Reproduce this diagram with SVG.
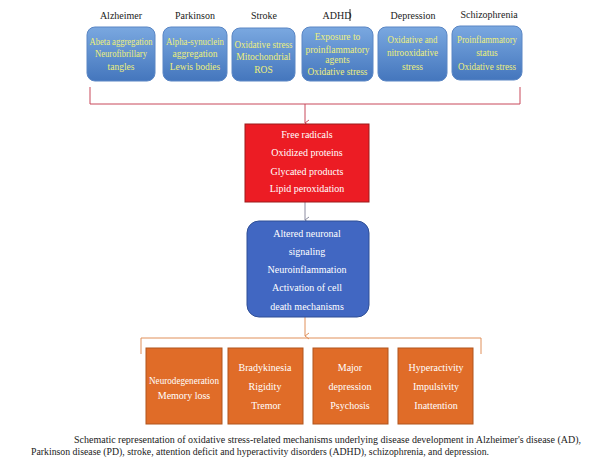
<svg xmlns="http://www.w3.org/2000/svg" width="589" height="472" viewBox="0 0 589 472">
<defs>
<linearGradient id="gTop" x1="0" y1="0" x2="0" y2="1">
<stop offset="0" stop-color="#7aa8e0"/>
<stop offset="1" stop-color="#4476bd"/>
</linearGradient>
<marker id="aRed" markerWidth="8" markerHeight="8" refX="4" refY="6" orient="auto" markerUnits="userSpaceOnUse" viewBox="0 0 8 8">
<path d="M1,2 L4,6 L7,2" fill="none" stroke="#c8485a" stroke-width="1"/>
</marker>
<marker id="aGrey" markerWidth="8" markerHeight="8" refX="4" refY="6" orient="auto" markerUnits="userSpaceOnUse" viewBox="0 0 8 8">
<path d="M1,2 L4,6 L7,2" fill="none" stroke="#8c8ca0" stroke-width="1"/>
</marker>
<marker id="aOr" markerWidth="8" markerHeight="8" refX="4" refY="6" orient="auto" markerUnits="userSpaceOnUse" viewBox="0 0 8 8">
<path d="M1,2 L4,6 L7,2" fill="none" stroke="#e0905a" stroke-width="1"/>
</marker>
</defs>
<style>
text{font-family:"Liberation Serif","DejaVu Serif",serif;text-anchor:middle}
.lbl{font-size:10px;fill:#222}
.top rect{fill:url(#gTop);stroke:#5a86c4;stroke-width:1}
.top text{font-size:9.5px;fill:#eef07a}
.red{fill:#ec1c24;stroke:#9c1a1a;stroke-width:1}
.blue{fill:#4167c2;stroke:#2f4f96;stroke-width:1}
.or{fill:#e06c28;stroke:#b0541c;stroke-width:1}
.w{font-size:10px;fill:#ffffff}
.cap{font-size:9.4px;fill:#222;text-anchor:start}
</style>
<rect width="589" height="472" fill="#ffffff"/>

<g id="connectors" fill="none">
<path d="M90,87 V104 H520 V87" stroke="#c8485a" stroke-width="1"/>
<path d="M305,104 V123" stroke="#c8485a" stroke-width="1" marker-end="url(#aRed)"/>
<path d="M305,202 V220" stroke="#8c8ca0" stroke-width="1" marker-end="url(#aGrey)"/>
<path d="M305,317 V336" stroke="#e0905a" stroke-width="1" marker-end="url(#aOr)"/>
<path d="M141,354 V338 H481 V354" stroke="#e0905a" stroke-width="1"/>
</g>

<g id="labels">
<text class="lbl" x="121" y="19">Alzheimer</text>
<text class="lbl" x="195" y="19">Parkinson</text>
<text class="lbl" x="264" y="19">Stroke</text>
<text class="lbl" x="337" y="19">ADHD</text>
<line x1="350" y1="9" x2="350" y2="21" stroke="#000" stroke-width="0.8"/>
<text class="lbl" x="413" y="19">Depression</text>
<text class="lbl" x="489" y="18">Schizophrenia</text>
</g>

<g id="n-alzheimer" class="top">
<rect x="87" y="27" width="68" height="54" rx="8"/>
<text x="121" y="45" textLength="63" lengthAdjust="spacingAndGlyphs">Abeta aggregation</text>
<text x="121" y="57" textLength="52" lengthAdjust="spacingAndGlyphs">Neurofibrillary</text>
<text x="121" y="70">tangles</text>
</g>
<g id="n-parkinson" class="top">
<rect x="163" y="27" width="64" height="54" rx="8"/>
<text x="195" y="45" textLength="58" lengthAdjust="spacingAndGlyphs">Alpha-synuclein</text>
<text x="195" y="57">aggregation</text>
<text x="195" y="70">Lewis bodies</text>
</g>
<g id="n-stroke" class="top">
<rect x="232" y="28" width="63" height="53" rx="8"/>
<text x="263.5" y="48" textLength="58" lengthAdjust="spacingAndGlyphs">Oxidative stress</text>
<text x="263.5" y="60">Mitochondrial</text>
<text x="263.5" y="73">ROS</text>
</g>
<g id="n-adhd" class="top">
<rect x="302" y="27" width="71" height="54" rx="8"/>
<text x="337.5" y="40">Exposure to</text>
<text x="337.5" y="53" textLength="64" lengthAdjust="spacingAndGlyphs">proinflammatory</text>
<text x="337.5" y="63">agents</text>
<text x="337.5" y="75" textLength="60" lengthAdjust="spacingAndGlyphs">Oxidative stress</text>
</g>
<g id="n-depression" class="top">
<rect x="378" y="27" width="69" height="54" rx="8"/>
<text x="412.5" y="43" textLength="50" lengthAdjust="spacingAndGlyphs">Oxidative and</text>
<text x="412.5" y="56" textLength="51" lengthAdjust="spacingAndGlyphs">nitrooxidative</text>
<text x="412.5" y="70">stress</text>
</g>
<g id="n-schizophrenia" class="top">
<rect x="452" y="26" width="70" height="54" rx="8"/>
<text x="487" y="43" textLength="60" lengthAdjust="spacingAndGlyphs">Proinflammatory</text>
<text x="487" y="56">status</text>
<text x="487" y="70" textLength="58" lengthAdjust="spacingAndGlyphs">Oxidative stress</text>
</g>

<g id="n-oxidative">
<rect class="red" x="245" y="124" width="124" height="78"/>
<text class="w" x="307" y="138">Free radicals</text>
<text class="w" x="307" y="156">Oxidized proteins</text>
<text class="w" x="307" y="175">Glycated products</text>
<text class="w" x="307" y="192">Lipid peroxidation</text>
</g>

<g id="n-neuronal">
<rect class="blue" x="247" y="221" width="122" height="96" rx="12"/>
<text class="w" x="307" y="237">Altered neuronal</text>
<text class="w" x="307" y="255">signaling</text>
<text class="w" x="307" y="273">Neuroinflammation</text>
<text class="w" x="307" y="291">Activation of cell</text>
<text class="w" x="307" y="310">death mechanisms</text>
</g>

<g id="n-neurodegeneration">
<rect class="or" x="146" y="348" width="76" height="76"/>
<text class="w" x="184" y="384" textLength="70" lengthAdjust="spacingAndGlyphs">Neurodegeneration</text>
<text class="w" x="184" y="399">Memory loss</text>
</g>
<g id="n-motor">
<rect class="or" x="228" y="348" width="75" height="76"/>
<text class="w" x="265" y="371">Bradykinesia</text>
<text class="w" x="265" y="390">Rigidity</text>
<text class="w" x="266" y="409">Tremor</text>
</g>
<g id="n-depressive">
<rect class="or" x="313" y="348" width="75" height="76"/>
<text class="w" x="350" y="371">Major</text>
<text class="w" x="350" y="390">depression</text>
<text class="w" x="350" y="409">Psychosis</text>
</g>
<g id="n-attention">
<rect class="or" x="398" y="348" width="75" height="76"/>
<text class="w" x="436" y="371">Hyperactivity</text>
<text class="w" x="436" y="390">Impulsivity</text>
<text class="w" x="436" y="409">Inattention</text>
</g>

<g id="caption">
<text class="cap" x="74" y="443" textLength="507" lengthAdjust="spacingAndGlyphs">Schematic representation of oxidative stress-related mechanisms underlying disease development in Alzheimer's disease (AD),</text>
<text class="cap" x="31" y="455" textLength="458" lengthAdjust="spacingAndGlyphs">Parkinson disease (PD), stroke, attention deficit and hyperactivity disorders (ADHD), schizophrenia, and depression.</text>
</g>
</svg>
